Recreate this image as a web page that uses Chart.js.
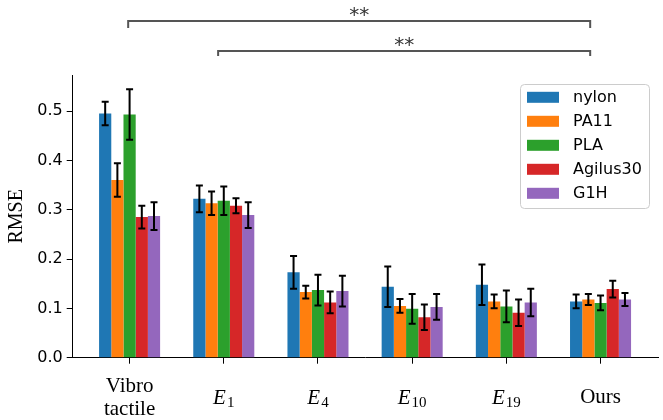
<!DOCTYPE html>
<html>
<head>
<meta charset="utf-8">
<script src="https://cdn.jsdelivr.net/npm/chart.js@4.4.0/dist/chart.umd.min.js"></script>
<style>
  html, body { margin: 0; padding: 0; background: #fff; }
  #wrap { width: 663px; height: 420px; }
</style>
</head>
<body>
<div id="wrap"><canvas id="chart"></canvas></div>
<script>
// methods on the x axis ("E_n" is drawn as E with subscript n)
const categories = ['Vibro tactile', 'E_1', 'E_4', 'E_10', 'E_19', 'Ours'];
const materials = ['nylon', 'PA11', 'PLA', 'Agilus30', 'G1H'];
const colors = ['#1f77b4', '#ff7f0e', '#2ca02c', '#d62728', '#9467bd'];

// mean RMSE per material, one value per category
const nylon    = [0.495, 0.322, 0.173, 0.144, 0.148, 0.114];
const pa11     = [0.360, 0.313, 0.133, 0.105, 0.114, 0.118];
const pla      = [0.493, 0.318, 0.137, 0.099, 0.104, 0.111];
const agilus30 = [0.285, 0.308, 0.112, 0.082, 0.091, 0.139];
const g1h      = [0.287, 0.289, 0.135, 0.103, 0.112, 0.118];

// standard deviations (error bars)
const nylonErr    = [0.024, 0.027, 0.033, 0.041, 0.041, 0.014];
const pa11Err     = [0.034, 0.024, 0.013, 0.014, 0.014, 0.011];
const plaErr      = [0.051, 0.029, 0.031, 0.030, 0.032, 0.015];
const agilus30Err = [0.023, 0.015, 0.022, 0.026, 0.027, 0.017];
const g1hErr      = [0.028, 0.026, 0.031, 0.026, 0.028, 0.013];

const yTicks = [0, 0.1, 0.2, 0.3, 0.4, 0.5];

// significance brackets, in category units
const brackets = [
  { from: -0.015, to: 4.89, label: '**' },
  { from: 0.94, to: 4.89, label: '**' }
];

const means = [nylon, pa11, pla, agilus30, g1h];
const errs = [nylonErr, pa11Err, plaErr, agilus30Err, g1hErr];

const errorBars = {
  id: 'errorBars',
  afterDatasetsDraw(chart) {
    const { ctx, scales: { y } } = chart;
    ctx.save();
    ctx.strokeStyle = '#000';
    ctx.lineWidth = 2;
    chart.data.datasets.forEach((ds, d) => {
      chart.getDatasetMeta(d).data.forEach((bar, i) => {
        const top = y.getPixelForValue(means[d][i] + errs[d][i]);
        const bot = y.getPixelForValue(means[d][i] - errs[d][i]);
        ctx.beginPath();
        ctx.moveTo(bar.x, top); ctx.lineTo(bar.x, bot);
        ctx.moveTo(bar.x - 3.5, top); ctx.lineTo(bar.x + 3.5, top);
        ctx.moveTo(bar.x - 3.5, bot); ctx.lineTo(bar.x + 3.5, bot);
        ctx.stroke();
      });
    });
    ctx.restore();
  }
};

const decorations = {
  id: 'decorations',
  afterDraw(chart) {
    const { ctx, scales: { x } } = chart;
    ctx.save();

    // x tick labels
    ctx.fillStyle = '#000';
    ctx.textAlign = 'center';
    ctx.textBaseline = 'alphabetic';
    categories.forEach((c, i) => {
      const px = x.getPixelForValue(i);
      if (c.includes('_')) {
        const [base, sub] = c.split('_');
        ctx.font = 'italic 21px "Liberation Serif"';
        const wb = ctx.measureText(base).width;
        ctx.font = '15px "Liberation Serif"';
        const ws = ctx.measureText(sub).width;
        const left = px - (wb + ws + 1) / 2;
        ctx.textAlign = 'left';
        ctx.font = 'italic 21px "Liberation Serif"';
        ctx.fillText(base, left, 404);
        ctx.font = '15px "Liberation Serif"';
        ctx.fillText(sub, left + wb + 1, 407);
        ctx.textAlign = 'center';
      } else {
        ctx.font = '21px "Liberation Serif"';
        const lines = c.split(' ');
        if (lines.length === 2) {
          ctx.fillText(lines[0], px, 392);
          ctx.fillText(lines[1], px, 415);
        } else {
          ctx.fillText(c, px, 403);
        }
      }
    });

    // significance brackets
    brackets.forEach((b, k) => {
      const yb = k === 0 ? 21 : 51;
      const drop = k === 0 ? 7 : 5;
      const x0 = x.getPixelForValue(b.from);
      const x1 = x.getPixelForValue(b.to);
      ctx.strokeStyle = '#555';
      ctx.lineWidth = 2;
      ctx.beginPath();
      ctx.moveTo(x0, yb + drop); ctx.lineTo(x0, yb); ctx.lineTo(x1, yb); ctx.lineTo(x1, yb + drop);
      ctx.stroke();
      ctx.fillStyle = '#333';
      ctx.font = '20px "DejaVu Sans"';
      ctx.textAlign = 'center';
      ctx.fillText(b.label, (x0 + x1) / 2, yb);
    });

    // legend box
    const lx = 520, ly = 84, lw = 129, lh = 124;
    ctx.fillStyle = 'rgba(255,255,255,0.8)';
    ctx.strokeStyle = '#cccccc';
    ctx.lineWidth = 1;
    ctx.beginPath();
    ctx.roundRect(lx + 0.5, ly + 0.5, lw, lh, 4);
    ctx.fill();
    ctx.stroke();
    ctx.font = '16px "DejaVu Sans"';
    ctx.textAlign = 'left';
    ctx.textBaseline = 'middle';
    materials.forEach((m, i) => {
      const cy = 97.3 + i * 24;
      ctx.fillStyle = colors[i];
      ctx.fillRect(527, cy - 5.5, 32, 11);
      ctx.fillStyle = '#000';
      ctx.fillText(m, 573, cy + 1);
    });
    ctx.restore();
  }
};

new Chart(document.getElementById('chart'), {
  type: 'bar',
  data: {
    datasets: materials.map((m, d) => ({
      label: m,
      data: means[d].map((v, i) => ({ x: i, y: v })),
      backgroundColor: colors[d],
      borderWidth: 0,
      categoryPercentage: 0.648,
      barPercentage: 1.0
    }))
  },
  options: {
    responsive: true,
    maintainAspectRatio: false,
    animation: false,
    devicePixelRatio: 1,
    layout: { padding: { top: 75, right: 5, left: 0, bottom: 0 } },
    plugins: { legend: { display: false }, tooltip: { enabled: false } },
    scales: {
      x: {
        type: 'linear',
        min: -0.604,
        max: 5.61,
        offset: false,
        afterBuildTicks: (scale) => { scale.ticks = categories.map((c, i) => ({ value: i })); },
        afterFit: (scale) => { scale.height = 62.3; },
        ticks: { display: false },
        grid: { display: true, offset: false, drawOnChartArea: false, drawTicks: true, tickLength: 6, color: '#000', lineWidth: 1 },
        border: { display: true, color: '#000', width: 1 }
      },
      y: {
        min: 0,
        max: 0.573,
        afterBuildTicks: (scale) => { scale.ticks = yTicks.map((v) => ({ value: v })); },
        afterFit: (scale) => { scale.width = 72.7; },
        ticks: {
          callback: (v) => v.toFixed(1),
          font: { family: 'DejaVu Sans', size: 16 },
          color: '#000',
          padding: 4
        },
        grid: { display: true, drawOnChartArea: false, drawTicks: true, tickLength: 6, color: '#000', lineWidth: 1 },
        border: { display: true, color: '#000', width: 1 },
        title: {
          display: true,
          text: 'RMSE',
          font: { family: 'Liberation Serif', size: 20 },
          color: '#000',
          padding: { top: 5, bottom: 0 }
        }
      }
    }
  },
  plugins: [errorBars, decorations]
});
</script>
</body>
</html>
